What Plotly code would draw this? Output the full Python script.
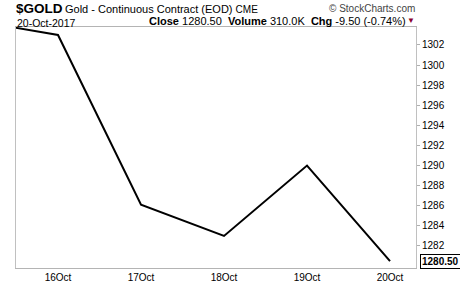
import plotly.graph_objects as go

dates = ["13Oct", "16Oct", "17Oct", "18Oct", "19Oct", "20Oct"]
closes = [1304.4, 1303.0, 1286.1, 1283.0, 1290.0, 1280.5]
x_idx = list(range(len(dates)))
ytick_vals = [1282, 1284, 1286, 1288, 1290, 1292, 1294, 1296, 1298, 1300, 1302]
last_close = "1280.50"

F = "Liberation Sans, Arial, sans-serif"

fig = go.Figure()
fig.add_trace(go.Scatter(x=x_idx, y=closes, mode="lines",
                         line=dict(color="black", width=2), hoverinfo="skip"))

fig.update_layout(
    width=460, height=284,
    margin=dict(l=16, r=44, t=27, b=16),
    paper_bgcolor="white", plot_bgcolor="white",
    showlegend=False,
    font=dict(family=F, size=10, color="black"),
    xaxis=dict(range=[0.494, 5.313], tickvals=x_idx[1:], ticktext=dates[1:],
               showgrid=False, zeroline=False, showline=True, linecolor="#b4b4b4",
               linewidth=1, mirror=True, ticks="", automargin=False,
               tickfont=dict(size=10, family=F)),
    yaxis=dict(range=[1279.81, 1303.79], side="right", tickvals=ytick_vals,
               showgrid=False, zeroline=False, showline=True, linecolor="#c0c0c0",
               linewidth=1, mirror=True, ticks="outside", ticklen=3, tickcolor="#b0b0b0",
               automargin=False, tickfont=dict(size=10, family=F)),
)

anns = [
    dict(x=15, y=0, text="<b>$GOLD</b>", font=dict(size=13.5, family=F), anchor="left"),
    dict(x=64, y=2, text="Gold - Continuous Contract (EOD) <span style='font-size:10px'>CME</span>",
         font=dict(size=11, family=F), anchor="left"),
    dict(x=16, y=16, text="20-Oct-2017", font=dict(size=10.5, family=F), anchor="left"),
    dict(x=407, y=14, text="<b>Close</b> 1280.50  <b>Volume</b> 310.0K  <b>Chg</b> -9.50 (-0.74%)",
         font=dict(size=11, family=F), anchor="right"),
    dict(x=416, y=2, text="© StockCharts.com", font=dict(size=10, family=F, color="#444444"),
         anchor="right"),
    dict(x=416, y=15, text="▼", font=dict(size=8, family=F, color="#8b0030"), anchor="right"),
]
for a in anns:
    fig.add_annotation(xref="paper", yref="paper",
                       x=(a["x"] - 16) / 400, y=1 - (a["y"] - 27) / 241,
                       xanchor=a["anchor"], yanchor="top", text=a["text"], font=a["font"],
                       showarrow=False, borderpad=0)

fig.add_annotation(xref="paper", yref="y", x=1.01, y=closes[-1], xanchor="left",
                   text="<b>" + last_close + "</b>", showarrow=False,
                   font=dict(size=10, family=F), bordercolor="black", borderwidth=1,
                   borderpad=1, bgcolor="white")

fig.write_html("out.html")
